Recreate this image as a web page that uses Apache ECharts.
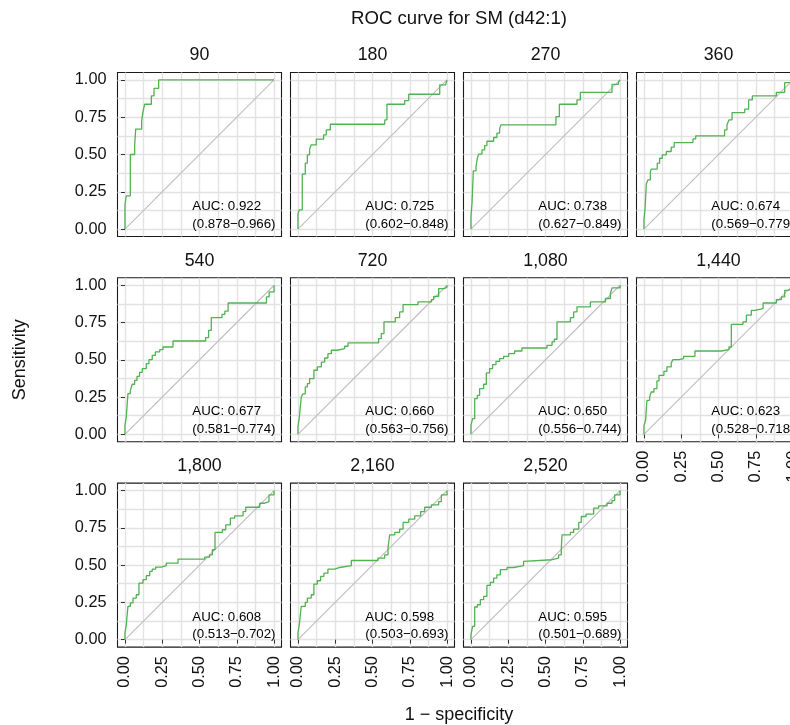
<!DOCTYPE html>
<html>
<head>
<meta charset="utf-8">
<script src="https://cdn.jsdelivr.net/npm/echarts@6/dist/echarts.min.js"></script>
<style>
  html, body { margin: 0; padding: 0; background: #ffffff; }
  #chart { width: 790px; height: 725px; }
</style>
</head>
<body>
<div id="chart"></div>
<script>
// ---- data -------------------------------------------------------------
const panelTitles = ['90', '180', '270', '360', '540', '720', '1,080', '1,440', '1,800', '2,160', '2,520'];

const aucValue = [0.922, 0.725, 0.738, 0.674, 0.677, 0.660, 0.650, 0.623, 0.608, 0.598, 0.595];
const aucLower = [0.878, 0.602, 0.627, 0.569, 0.581, 0.563, 0.556, 0.528, 0.513, 0.503, 0.501];
const aucUpper = [0.966, 0.848, 0.849, 0.779, 0.774, 0.756, 0.744, 0.718, 0.702, 0.693, 0.689];

// ROC staircases: [1 - specificity, sensitivity] at the top of each vertical step
const roc90 = [[0,0],[0,0.163],[0.009,0.223],[0.036,0.5],[0.065,0.558],[0.072,0.67],[0.112,0.72],[0.119,0.777],[0.132,0.837],[0.177,0.893],[0.195,0.944],[0.226,1],[1,1]];
const roc180 = [[0,0],[0,0.103],[0.009,0.129],[0.029,0.368],[0.049,0.442],[0.063,0.498],[0.078,0.536],[0.089,0.565],[0.123,0.603],[0.172,0.632],[0.19,0.665],[0.217,0.703],[0.582,0.732],[0.597,0.837],[0.716,0.862],[0.743,0.904],[0.951,0.967],[0.99,0.978],[1,1]];
const roc270 = [[0,0],[0,0.085],[0.007,0.17],[0.016,0.39],[0.034,0.42],[0.043,0.475],[0.051,0.502],[0.074,0.531],[0.092,0.56],[0.107,0.589],[0.152,0.614],[0.174,0.643],[0.192,0.67],[0.201,0.699],[0.57,0.754],[0.593,0.837],[0.711,0.866],[0.734,0.917],[0.946,0.971],[0.99,0.985],[1,1]];
const roc360 = [[0,0],[0,0.063],[0.007,0.13],[0.016,0.304],[0.027,0.33],[0.043,0.386],[0.05,0.402],[0.089,0.442],[0.105,0.475],[0.123,0.498],[0.15,0.52],[0.183,0.549],[0.203,0.58],[0.329,0.605],[0.347,0.625],[0.541,0.665],[0.557,0.699],[0.57,0.732],[0.591,0.781],[0.676,0.804],[0.702,0.866],[0.727,0.893],[0.888,0.917],[0.944,0.982],[1,1]];
const roc540 = [[0,0],[0,0.06],[0.009,0.116],[0.02,0.273],[0.036,0.295],[0.049,0.336],[0.065,0.362],[0.081,0.389],[0.098,0.416],[0.116,0.441],[0.143,0.474],[0.161,0.501],[0.183,0.53],[0.204,0.553],[0.233,0.568],[0.255,0.586],[0.322,0.626],[0.541,0.649],[0.561,0.698],[0.579,0.783],[0.651,0.805],[0.67,0.826],[0.692,0.881],[0.949,0.922],[0.967,0.955],[1,1]];
const roc720 = [[0,0],[0,0.054],[0.009,0.112],[0.022,0.25],[0.034,0.272],[0.049,0.318],[0.063,0.34],[0.078,0.374],[0.107,0.43],[0.13,0.452],[0.157,0.485],[0.179,0.512],[0.201,0.541],[0.224,0.564],[0.264,0.575],[0.313,0.591],[0.336,0.613],[0.541,0.642],[0.559,0.676],[0.577,0.754],[0.653,0.783],[0.682,0.821],[0.705,0.87],[0.805,0.888],[0.895,0.904],[0.91,0.926],[0.944,0.978],[0.984,0.989],[1,1]];
const roc1080 = [[0,0],[0,0.06],[0.011,0.105],[0.025,0.239],[0.043,0.262],[0.058,0.306],[0.085,0.336],[0.103,0.412],[0.125,0.441],[0.145,0.468],[0.168,0.49],[0.192,0.508],[0.219,0.523],[0.253,0.541],[0.293,0.559],[0.342,0.579],[0.51,0.597],[0.544,0.62],[0.559,0.638],[0.577,0.754],[0.667,0.783],[0.689,0.821],[0.711,0.855],[0.801,0.888],[0.902,0.911],[0.935,0.944],[0.946,0.982],[1,1]];
const roc1440 = [[0,0],[0,0.06],[0.011,0.094],[0.02,0.228],[0.038,0.25],[0.049,0.284],[0.067,0.306],[0.087,0.358],[0.101,0.396],[0.134,0.423],[0.154,0.452],[0.183,0.479],[0.195,0.501],[0.235,0.508],[0.266,0.523],[0.342,0.559],[0.519,0.568],[0.57,0.586],[0.586,0.738],[0.664,0.754],[0.687,0.799],[0.72,0.832],[0.743,0.843],[0.799,0.881],[0.888,0.904],[0.922,0.922],[0.944,0.966],[0.966,0.978],[1,1]];
const roc1800 = [[0,0],[0,0.045],[0.009,0.1],[0.02,0.223],[0.036,0.246],[0.054,0.279],[0.076,0.301],[0.094,0.379],[0.121,0.402],[0.143,0.429],[0.166,0.458],[0.183,0.473],[0.206,0.487],[0.244,0.496],[0.277,0.513],[0.356,0.54],[0.535,0.554],[0.568,0.569],[0.586,0.603],[0.604,0.719],[0.653,0.737],[0.676,0.77],[0.707,0.815],[0.736,0.83],[0.792,0.859],[0.81,0.888],[0.904,0.915],[0.937,0.926],[0.966,0.971],[1,1]];
const roc2160 = [[0,0],[0,0.045],[0.009,0.1],[0.022,0.223],[0.049,0.25],[0.063,0.279],[0.089,0.301],[0.107,0.373],[0.13,0.395],[0.152,0.424],[0.174,0.446],[0.201,0.473],[0.246,0.484],[0.28,0.496],[0.358,0.531],[0.537,0.547],[0.582,0.569],[0.604,0.614],[0.615,0.703],[0.649,0.719],[0.682,0.741],[0.705,0.786],[0.743,0.808],[0.783,0.83],[0.823,0.859],[0.85,0.888],[0.895,0.904],[0.944,0.926],[0.962,0.971],[1,1]];
const roc2520 = [[0,0],[0,0.033],[0.011,0.089],[0.025,0.219],[0.043,0.234],[0.063,0.268],[0.085,0.29],[0.107,0.364],[0.13,0.384],[0.152,0.413],[0.174,0.435],[0.197,0.469],[0.242,0.484],[0.286,0.496],[0.353,0.525],[0.365,0.536],[0.544,0.547],[0.588,0.569],[0.606,0.614],[0.611,0.703],[0.667,0.719],[0.689,0.741],[0.723,0.786],[0.74,0.826],[0.772,0.842],[0.823,0.882],[0.857,0.897],[0.913,0.915],[0.946,0.933],[0.964,0.971],[1,1]];

const rocCurves = [roc90, roc180, roc270, roc360, roc540, roc720, roc1080, roc1440, roc1800, roc2160, roc2520];

// chance line
const chanceLine = [[0, 0], [1, 1]];

// axis ticks and grid lines
const majorTicks = [0, 0.25, 0.5, 0.75, 1];
const tickLabels = ['0.00', '0.25', '0.50', '0.75', '1.00'];
const gridValues = [0, 0.125, 0.25, 0.375, 0.5, 0.625, 0.75, 0.875, 1];

// ---- layout & style ---------------------------------------------------
const FONT = '"Liberation Sans", Arial, Helvetica, sans-serif';
const NCOL = 4;
const LEFT0 = 117.5, COL_STEP = 173, TOP0 = 72.5, ROW_STEP = 205.3, SIZE = 164;
const AX_MIN = -0.05, AX_MAX = 1.05;
const GREEN = '#52b152';
const GRID_LINE = '#e2e2e2';
const TEXT = '#111111';

const grids = [], xAxes = [], yAxes = [], series = [], graphics = [];

function tickLabel(v) {
  const i = majorTicks.findIndex(t => Math.abs(t - v) < 1e-9);
  return i >= 0 ? tickLabels[i] : '';
}

rocCurves.forEach((curve, i) => {
  const row = Math.floor(i / NCOL), col = i % NCOL;
  const left = LEFT0 + col * COL_STEP;
  const top = TOP0 + row * ROW_STEP;
  const showY = col === 0;
  const showX = (i + NCOL) >= rocCurves.length; // bottom panel of each column

  grids.push({
    left: left, top: top, width: SIZE, height: SIZE,
    show: true, borderColor: '#1a1a1a', borderWidth: 1.1, backgroundColor: '#fff',
    outerBoundsMode: 'none', containLabel: false
  });

  // axis carrying the background grid lines
  xAxes.push({
    type: 'value', gridIndex: i, min: AX_MIN, max: AX_MAX, position: 'bottom',
    axisLine: { show: false },
    axisTick: { show: false, customValues: gridValues },
    axisLabel: { show: false },
    splitLine: { show: true, lineStyle: { color: GRID_LINE, width: 1.4 } }
  });
  // axis carrying ticks and tick labels
  xAxes.push({
    type: 'value', gridIndex: i, min: AX_MIN, max: AX_MAX, position: 'bottom',
    axisLine: { show: false },
    axisTick: { show: showX, length: 4, customValues: majorTicks, lineStyle: { color: '#333', width: 1 } },
    axisLabel: {
      show: showX, customValues: majorTicks, rotate: 90, margin: 9,
      fontFamily: FONT, fontSize: 16.3, color: TEXT, formatter: tickLabel
    },
    splitLine: { show: false }
  });
  yAxes.push({
    type: 'value', gridIndex: i, min: AX_MIN, max: AX_MAX, position: 'left',
    axisLine: { show: false },
    axisTick: { show: false, customValues: gridValues },
    axisLabel: { show: false },
    splitLine: { show: true, lineStyle: { color: GRID_LINE, width: 1.4 } }
  });
  yAxes.push({
    type: 'value', gridIndex: i, min: AX_MIN, max: AX_MAX, position: 'left',
    axisLine: { show: false },
    axisTick: { show: showY, length: 4, customValues: majorTicks, lineStyle: { color: '#333', width: 1 } },
    axisLabel: {
      show: showY, customValues: majorTicks, margin: 11,
      fontFamily: FONT, fontSize: 16.3, color: TEXT, formatter: tickLabel
    },
    splitLine: { show: false }
  });

  const xi = 2 * i, yi = 2 * i;

  series.push({
    type: 'line', xAxisIndex: xi, yAxisIndex: yi, data: chanceLine,
    symbol: 'none', silent: true, z: 2,
    lineStyle: { color: '#bdbdbd', width: 1.1 }
  });
  series.push({
    type: 'line', xAxisIndex: xi, yAxisIndex: yi, data: curve, step: 'end',
    symbol: 'none', silent: true, z: 3,
    lineStyle: { color: GREEN, width: 1.3 }
  });
  series.push({
    type: 'scatter', xAxisIndex: xi, yAxisIndex: yi, data: [[0.452, 0.093]],
    symbolSize: 0, silent: true, z: 4,
    itemStyle: { color: '#000', opacity: 1 },
    label: {
      show: true, position: 'right', distance: 0,
      align: 'left', verticalAlign: 'middle',
      fontFamily: FONT, fontSize: 13.3, lineHeight: 17.5, color: '#000', opacity: 1,
      formatter: () => 'AUC: ' + aucValue[i].toFixed(3) + '\n(' +
        aucLower[i].toFixed(3) + '\u2212' + aucUpper[i].toFixed(3) + ')'
    }
  });

  // facet strip title
  graphics.push({
    type: 'text', x: left + SIZE / 2, y: top - 17, silent: true,
    style: {
      text: panelTitles[i], font: '17.8px ' + FONT, fill: TEXT,
      align: 'center', verticalAlign: 'middle', textAlign: 'center', textVerticalAlign: 'middle'
    }
  });
});

const plotCenterX = LEFT0 + (3 * COL_STEP + SIZE) / 2;
const plotCenterY = TOP0 + (2 * ROW_STEP + SIZE) / 2;

graphics.push({
  type: 'text', x: plotCenterX, y: 19, silent: true,
  style: {
    text: 'ROC curve for SM (d42:1)', font: '18.6px ' + FONT, fill: TEXT,
    align: 'center', verticalAlign: 'middle', textAlign: 'center', textVerticalAlign: 'middle'
  }
});
graphics.push({
  type: 'text', x: plotCenterX, y: 715, silent: true,
  style: {
    text: '1 \u2212 specificity', font: '18px ' + FONT, fill: TEXT,
    align: 'center', verticalAlign: 'middle', textAlign: 'center', textVerticalAlign: 'middle'
  }
});
graphics.push({
  type: 'text', x: 20, y: plotCenterY, rotation: Math.PI / 2, silent: true,
  style: {
    text: 'Sensitivity', font: '18px ' + FONT, fill: TEXT,
    align: 'center', verticalAlign: 'middle', textAlign: 'center', textVerticalAlign: 'middle'
  }
});

const chart = echarts.init(document.getElementById('chart'), null, { renderer: 'canvas' });
chart.setOption({
  animation: false,
  backgroundColor: '#ffffff',
  grid: grids,
  xAxis: xAxes,
  yAxis: yAxes,
  series: series,
  graphic: graphics
});
</script>
</body>
</html>
